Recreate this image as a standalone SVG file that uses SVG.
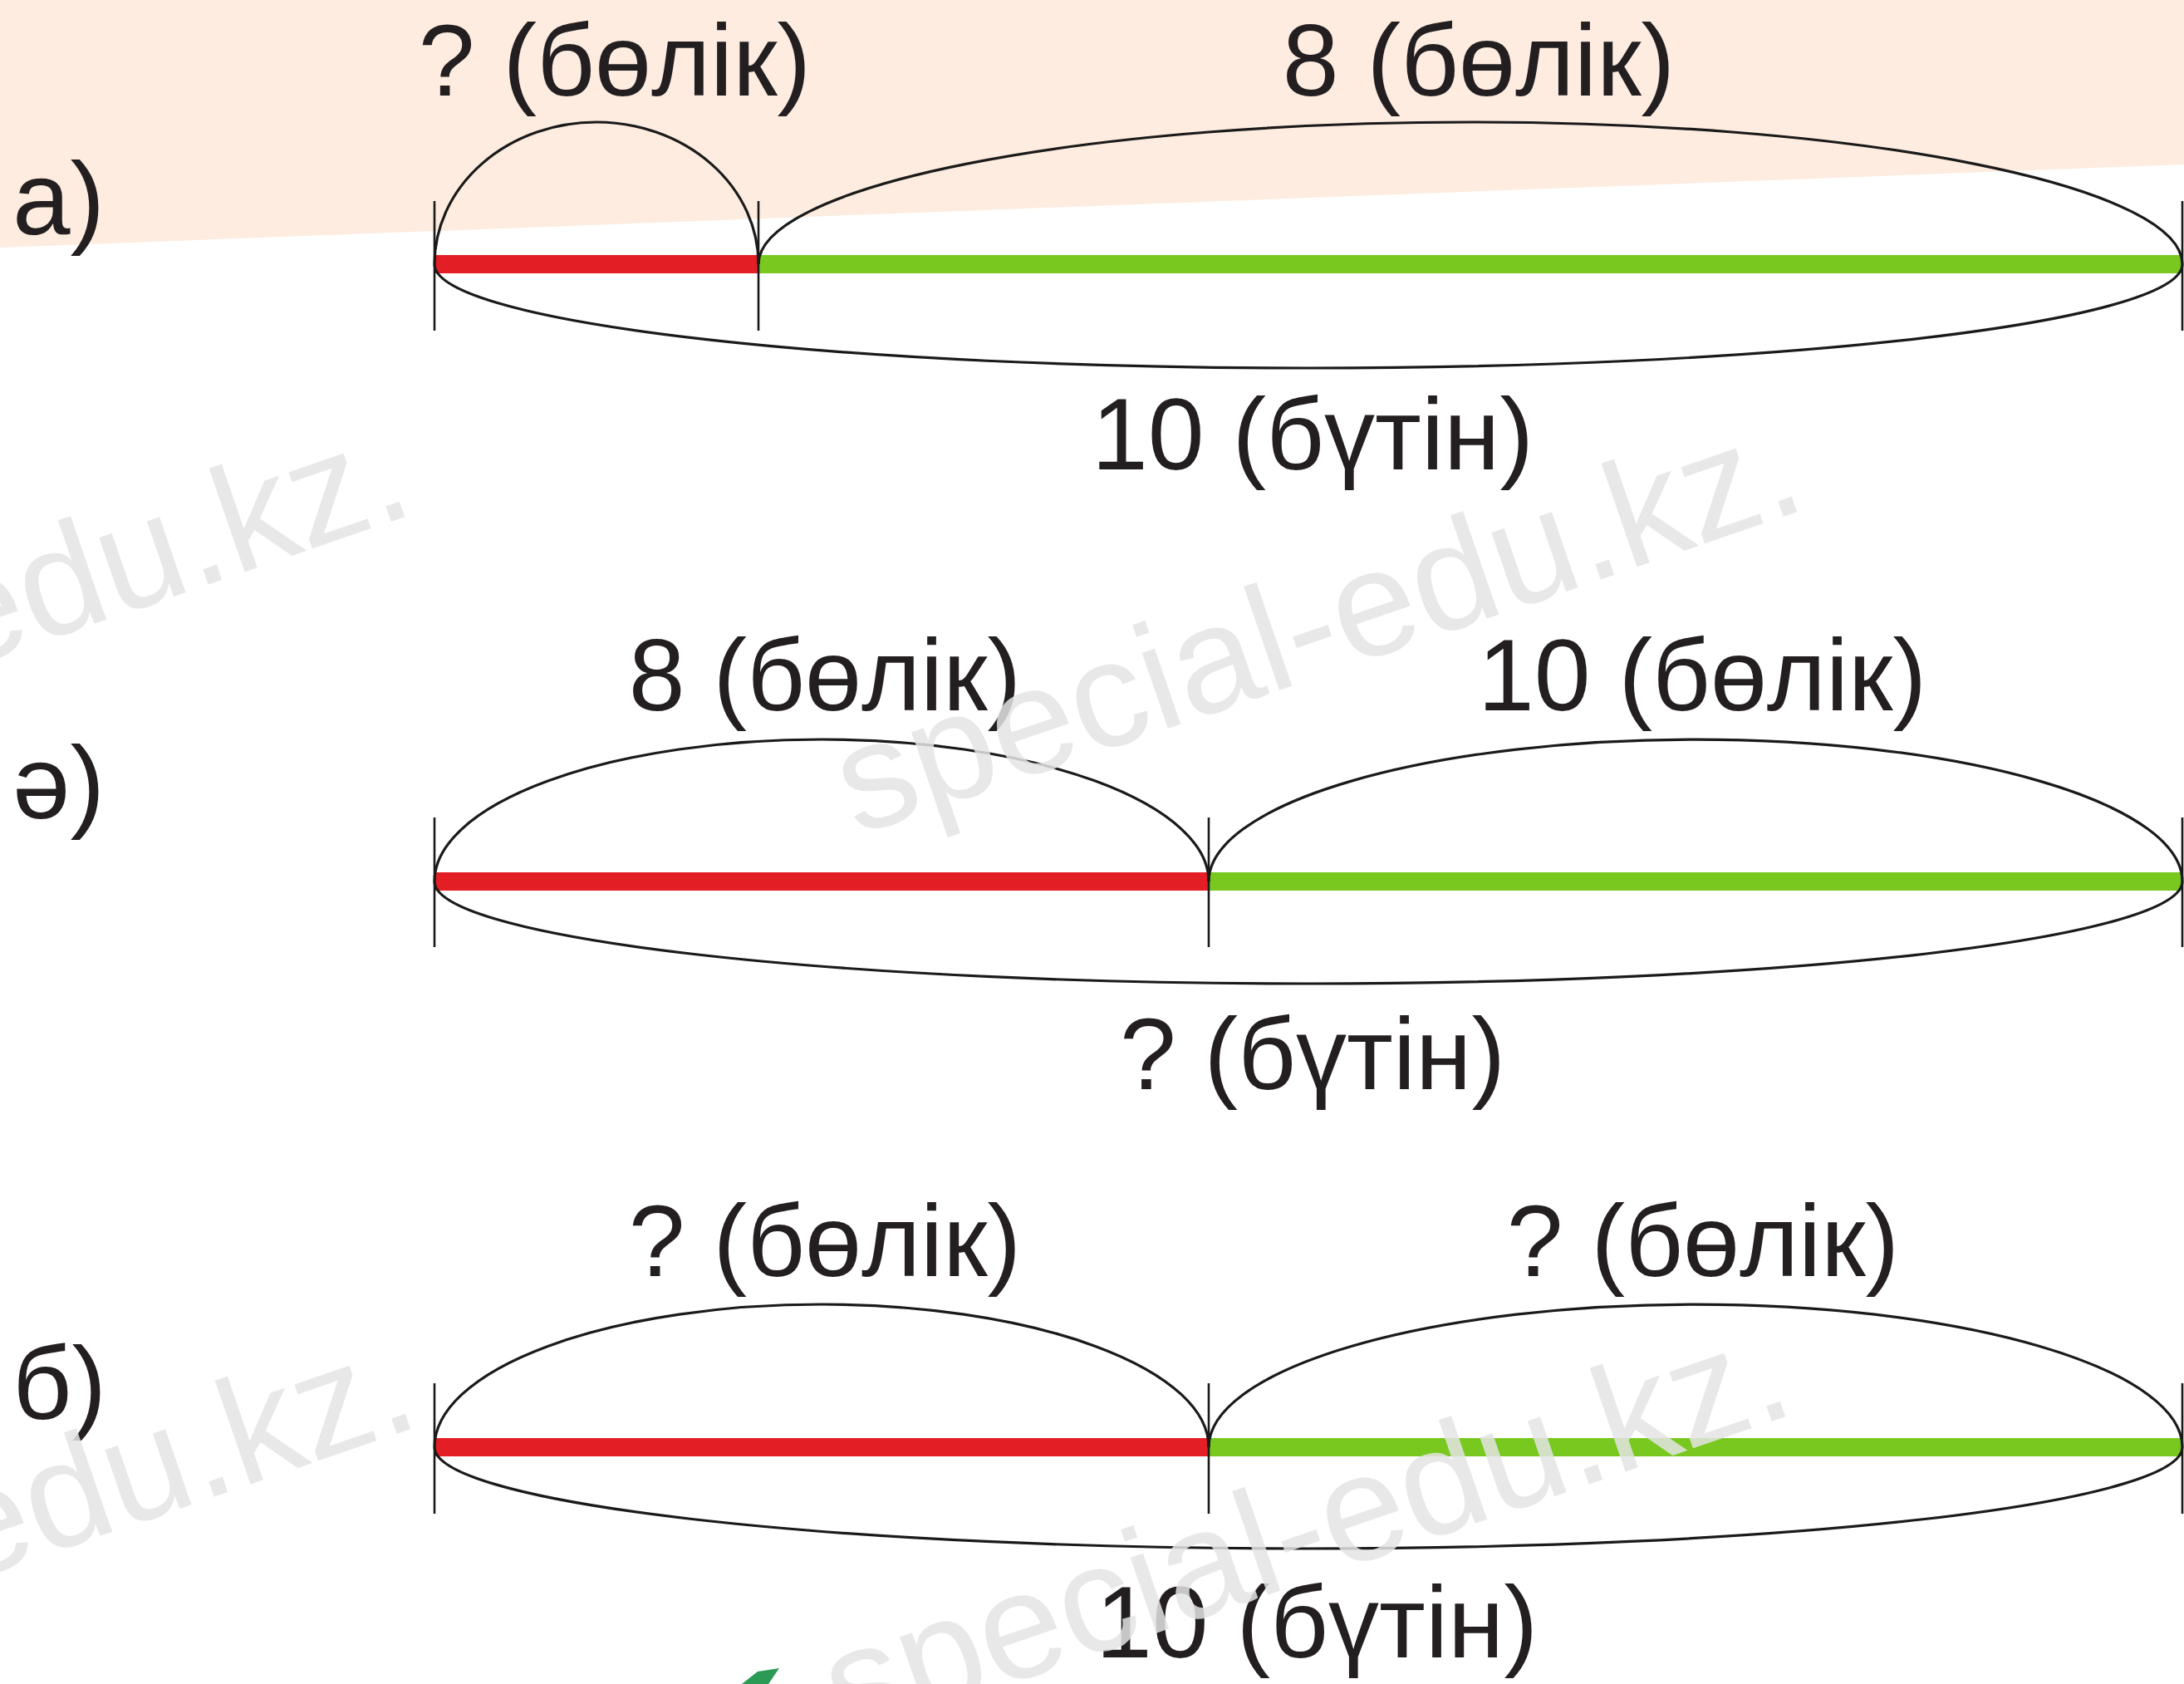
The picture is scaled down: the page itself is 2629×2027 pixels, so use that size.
<svg xmlns="http://www.w3.org/2000/svg" width="2629" height="2027" viewBox="0 0 2629 2027">
  <defs>
    <style>
      .lbl { font-family: "Liberation Sans", Arial, "Noto Sans", sans-serif; font-size: 122px; fill: #231f20; text-anchor: middle; }
      .tag { font-family: "Liberation Sans", Arial, "Noto Sans", sans-serif; font-size: 125px; fill: #231f20; }
      .arc { fill: none; stroke: #1a1a1a; stroke-width: 3.2; }
      .tick { stroke: #1a1a1a; stroke-width: 2.6; }
      .red { stroke: #e31e24; stroke-width: 22; }
      .green { stroke: #79c81f; stroke-width: 22; }
      .wm { font-family: "Liberation Sans", Arial, sans-serif; font-size: 182px; fill: #e4e4e4; fill-opacity: 0.85; }
    </style>
  </defs>

  <rect x="0" y="0" width="2629" height="2027" fill="#ffffff"/>
  <polygon id="peach-band" points="0,0 2629,0 2629,198 0,298" fill="#fdecdf"/>

  <!-- а) -->
  <g id="part-a">
    <g id="a-bar">
      <line class="red" x1="523" y1="318" x2="913" y2="318"/>
      <line class="green" x1="913" y1="318" x2="2627" y2="318"/>
    </g>
    <g id="a-connectors">
      <path class="arc" d="M 523 318 A 195 171 0 0 1 913 318"/>
      <path class="arc" d="M 913 318 A 857 171 0 0 1 2627 318"/>
      <path class="arc" d="M 523 318 A 1052 125 0 0 0 2627 318"/>
      <line class="tick" x1="523" y1="242" x2="523" y2="398"/>
      <line class="tick" x1="913" y1="242" x2="913" y2="398"/>
      <line class="tick" x1="2627" y1="242" x2="2627" y2="398"/>
    </g>
    <g id="a-tag"><text class="tag" x="15" y="282">а)</text></g>
    <g id="a-part1"><text class="lbl" x="740" y="115">? (бөлік)</text></g>
    <g id="a-part2"><text class="lbl" x="1780" y="115">8 (бөлік)</text></g>
    <g id="a-whole"><text class="lbl" x="1580" y="565">10 (бүтін)</text></g>
  </g>

  <!-- ә) -->
  <g id="part-ae">
    <g id="ae-bar">
      <line class="red" x1="523" y1="1061" x2="1455" y2="1061"/>
      <line class="green" x1="1455" y1="1061" x2="2627" y2="1061"/>
    </g>
    <g id="ae-connectors">
      <path class="arc" d="M 523 1061 A 466 171 0 0 1 1455 1061"/>
      <path class="arc" d="M 1455 1061 A 586 171 0 0 1 2627 1061"/>
      <path class="arc" d="M 523 1061 A 1052 123 0 0 0 2627 1061"/>
      <line class="tick" x1="523" y1="984" x2="523" y2="1140"/>
      <line class="tick" x1="1455" y1="984" x2="1455" y2="1140"/>
      <line class="tick" x1="2627" y1="984" x2="2627" y2="1140"/>
    </g>
    <g id="ae-tag"><text class="tag" x="15" y="985">ә)</text></g>
    <g id="ae-part1"><text class="lbl" x="993" y="855">8 (бөлік)</text></g>
    <g id="ae-part2"><text class="lbl" x="2049" y="855">10 (бөлік)</text></g>
    <g id="ae-whole"><text class="lbl" x="1580" y="1311">? (бүтін)</text></g>
  </g>

  <!-- б) -->
  <g id="part-b">
    <g id="b-bar">
      <line class="red" x1="523" y1="1742" x2="1455" y2="1742"/>
      <line class="green" x1="1455" y1="1742" x2="2627" y2="1742"/>
    </g>
    <g id="b-connectors">
      <path class="arc" d="M 523 1742 A 466 172 0 0 1 1455 1742"/>
      <path class="arc" d="M 1455 1742 A 586 172 0 0 1 2627 1742"/>
      <path class="arc" d="M 523 1742 A 1052 122 0 0 0 2627 1742"/>
      <line class="tick" x1="523" y1="1665" x2="523" y2="1822"/>
      <line class="tick" x1="1455" y1="1665" x2="1455" y2="1822"/>
      <line class="tick" x1="2627" y1="1665" x2="2627" y2="1822"/>
    </g>
    <g id="b-tag"><text class="tag" x="15" y="1708">б)</text></g>
    <g id="b-part1"><text class="lbl" x="993" y="1536">? (бөлік)</text></g>
    <g id="b-part2"><text class="lbl" x="2050" y="1536">? (бөлік)</text></g>
    <g id="b-whole"><text class="lbl" x="1585" y="1995">10 (бүтін)</text></g>
  </g>

  <polygon id="green-mark" points="893,2027 912,2012 938,2008 925,2027" fill="#2a9a55"/>

  <g id="watermarks">
    <text class="wm" transform="translate(-645,1012) rotate(-19)">special-edu.kz.</text>
    <text class="wm" transform="translate(1031,1006) rotate(-19)">special-edu.kz.</text>
    <text class="wm" transform="translate(-638,2110) rotate(-19)">special-edu.kz.</text>
    <text class="wm" transform="translate(1017,2095) rotate(-19)">special-edu.kz.</text>
  </g>
</svg>
